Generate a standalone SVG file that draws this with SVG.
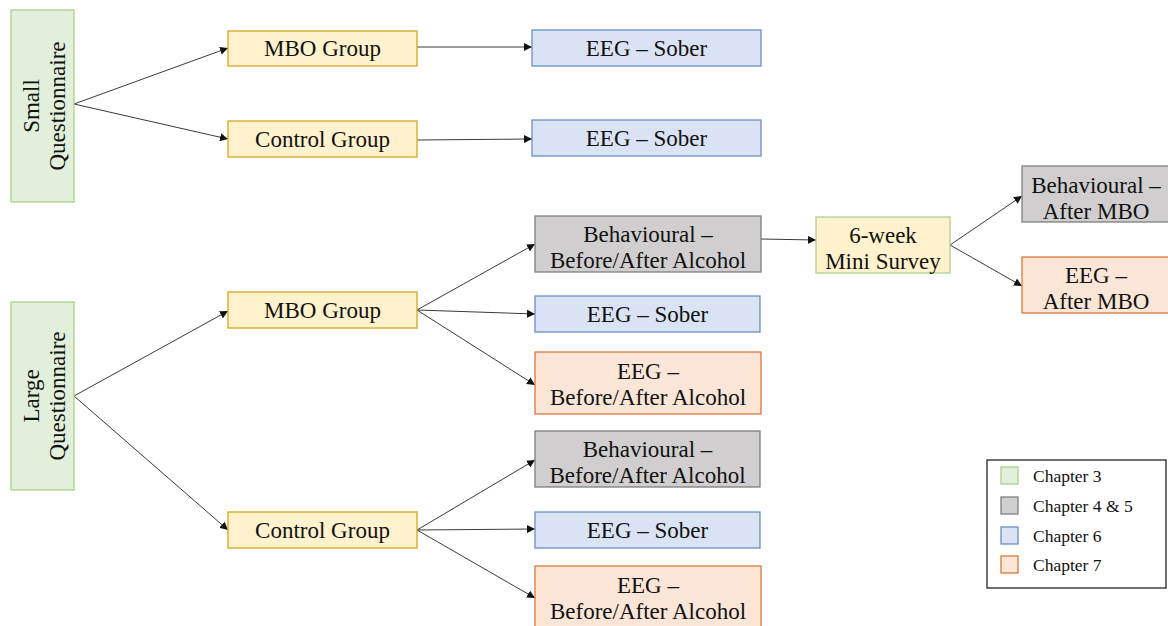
<svg xmlns="http://www.w3.org/2000/svg" width="1168" height="626" viewBox="0 0 1168 626">
  <style>
    text { font-family: "Liberation Serif", "DejaVu Serif", serif; fill: #111; }
    .lbl { font-size: 23px; text-anchor: middle; }
    .leg { font-size: 17.5px; }
    .green { fill: #e2efda; stroke: #a9d18e; stroke-width: 1.3; }
    .gold { fill: #fff2cc; stroke: #d6a520; stroke-width: 1.3; }
    .survey { fill: #fff2cc; stroke: #a9d18e; stroke-width: 1.3; }
    .blue { fill: #dae3f3; stroke: #6c8ebf; stroke-width: 1.3; }
    .grey { fill: #d0cece; stroke: #7f7f7f; stroke-width: 1.3; }
    .orange { fill: #fbe5d6; stroke: #d9783a; stroke-width: 1.3; }
    .edge { fill: none; stroke: #3a3a3a; stroke-width: 1; marker-end: url(#arrow); }
  </style>
  <defs>
    <marker id="arrow" viewBox="0 0 10 10" refX="10" refY="5" markerWidth="8" markerHeight="8" markerUnits="userSpaceOnUse" orient="auto">
      <path d="M0,0 L10,5 L0,10 Z" fill="#111"/>
    </marker>
  </defs>
  <rect width="1168" height="626" fill="#fff"/>

  <!-- connectors -->
  <g id="connectors">
    <path class="edge" d="M74,104 L228,48"/>
    <path class="edge" d="M74,104 L228,139"/>
    <path class="edge" d="M417,47 L532,47"/>
    <path class="edge" d="M417,140 L532,139"/>
    <path class="edge" d="M74,396 L228,311"/>
    <path class="edge" d="M74,396 L228,530"/>
    <path class="edge" d="M417,310 L535,244"/>
    <path class="edge" d="M417,310 L535,314"/>
    <path class="edge" d="M417,310 L535,385"/>
    <path class="edge" d="M417,530 L535,460"/>
    <path class="edge" d="M417,530 L535,529"/>
    <path class="edge" d="M417,530 L535,598"/>
    <path class="edge" d="M761,239 L816,240"/>
    <path class="edge" d="M950,245 L1022,196"/>
    <path class="edge" d="M950,245 L1022,286"/>
  </g>

  <!-- questionnaires -->
  <g id="small-questionnaire">
    <rect class="green" x="11" y="10" width="63" height="192"/>
    <text class="lbl" transform="translate(42,106) rotate(-90)"><tspan x="0" y="-3">Small</tspan><tspan x="0" y="23">Questionnaire</tspan></text>
  </g>
  <g id="large-questionnaire">
    <rect class="green" x="11" y="302" width="63" height="188"/>
    <text class="lbl" transform="translate(42,396) rotate(-90)"><tspan x="0" y="-3">Large</tspan><tspan x="0" y="23">Questionnaire</tspan></text>
  </g>

  <!-- groups -->
  <g id="mbo-group-small">
    <rect class="gold" x="228" y="31" width="189" height="35"/>
    <text class="lbl" x="322.5" y="56">MBO Group</text>
  </g>
  <g id="control-group-small">
    <rect class="gold" x="228" y="121" width="189" height="36"/>
    <text class="lbl" x="322.5" y="147">Control Group</text>
  </g>
  <g id="mbo-group-large">
    <rect class="gold" x="228" y="292" width="189" height="36"/>
    <text class="lbl" x="322.5" y="318">MBO Group</text>
  </g>
  <g id="control-group-large">
    <rect class="gold" x="228" y="512" width="189" height="36"/>
    <text class="lbl" x="322.5" y="538">Control Group</text>
  </g>

  <!-- sessions: small questionnaire -->
  <g id="eeg-sober-1">
    <rect class="blue" x="532" y="30" width="229" height="36"/>
    <text class="lbl" x="646.5" y="56">EEG – Sober</text>
  </g>
  <g id="eeg-sober-2">
    <rect class="blue" x="532" y="120" width="229" height="36"/>
    <text class="lbl" x="646.5" y="146">EEG – Sober</text>
  </g>

  <!-- sessions: large questionnaire, MBO -->
  <g id="behav-mbo">
    <rect class="grey" x="535" y="216" width="226" height="56"/>
    <text class="lbl" x="648" y="242">Behavioural –</text>
    <text class="lbl" x="648" y="268">Before/After Alcohol</text>
  </g>
  <g id="eeg-sober-3">
    <rect class="blue" x="535" y="296" width="225" height="36"/>
    <text class="lbl" x="647.5" y="322">EEG – Sober</text>
  </g>
  <g id="eeg-alcohol-mbo">
    <rect class="orange" x="535" y="352" width="226" height="62"/>
    <text class="lbl" x="648" y="379">EEG –</text>
    <text class="lbl" x="648" y="405">Before/After Alcohol</text>
  </g>

  <!-- sessions: large questionnaire, control -->
  <g id="behav-control">
    <rect class="grey" x="535" y="431" width="225" height="56"/>
    <text class="lbl" x="647.5" y="457">Behavioural –</text>
    <text class="lbl" x="647.5" y="483">Before/After Alcohol</text>
  </g>
  <g id="eeg-sober-4">
    <rect class="blue" x="535" y="512" width="225" height="36"/>
    <text class="lbl" x="647.5" y="538">EEG – Sober</text>
  </g>
  <g id="eeg-alcohol-control">
    <rect class="orange" x="535" y="566" width="226" height="64"/>
    <text class="lbl" x="648" y="593">EEG –</text>
    <text class="lbl" x="648" y="619">Before/After Alcohol</text>
  </g>

  <!-- follow-up -->
  <g id="mini-survey">
    <rect class="survey" x="816" y="217" width="134" height="56"/>
    <text class="lbl" x="883" y="243">6-week</text>
    <text class="lbl" x="883" y="269">Mini Survey</text>
  </g>
  <g id="behav-after-mbo">
    <rect class="grey" x="1022" y="166" width="150" height="56"/>
    <text class="lbl" x="1096" y="193">Behavioural –</text>
    <text class="lbl" x="1096" y="219">After MBO</text>
  </g>
  <g id="eeg-after-mbo">
    <rect class="orange" x="1022" y="257" width="150" height="56"/>
    <text class="lbl" x="1096" y="283">EEG –</text>
    <text class="lbl" x="1096" y="309">After MBO</text>
  </g>

  <!-- legend -->
  <g id="legend">
    <rect x="987" y="460" width="179" height="128" fill="#fff" stroke="#111" stroke-width="1.2"/>
    <rect class="green" x="1001" y="467" width="17" height="17"/>
    <text class="leg" x="1033" y="482">Chapter 3</text>
    <rect class="grey" x="1001" y="497" width="17" height="17"/>
    <text class="leg" x="1033" y="512">Chapter 4 &amp; 5</text>
    <rect class="blue" x="1001" y="527" width="17" height="17"/>
    <text class="leg" x="1033" y="542">Chapter 6</text>
    <rect class="orange" x="1001" y="556" width="17" height="17"/>
    <text class="leg" x="1033" y="571">Chapter 7</text>
  </g>
</svg>
